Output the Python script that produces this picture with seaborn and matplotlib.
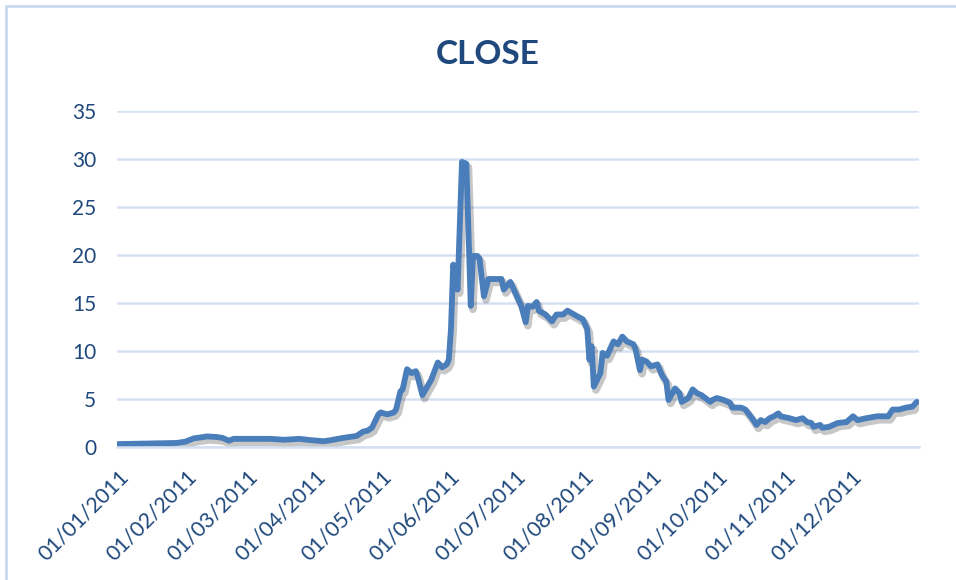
import matplotlib
matplotlib.use("Agg")
import matplotlib.pyplot as plt
import matplotlib.patheffects as pe
import matplotlib.transforms as mtransforms
from matplotlib.patches import Rectangle
import pandas as pd
import seaborn as sns

# Daily closing price, 2011
dates = [
    "2011-01-01", "2011-01-13", "2011-01-28", "2011-02-01", "2011-02-05",
    "2011-02-11", "2011-02-15", "2011-02-18", "2011-02-21", "2011-02-23",
    "2011-03-03", "2011-03-12", "2011-03-18", "2011-03-25", "2011-03-30",
    "2011-04-05", "2011-04-08", "2011-04-14", "2011-04-20", "2011-04-23",
    "2011-04-25", "2011-04-27", "2011-04-30", "2011-05-01", "2011-05-04",
    "2011-05-07", "2011-05-08", "2011-05-10", "2011-05-11", "2011-05-13",
    "2011-05-15", "2011-05-17", "2011-05-18", "2011-05-20", "2011-05-22",
    "2011-05-24", "2011-05-27", "2011-05-29", "2011-05-31", "2011-06-01",
    "2011-06-02", "2011-06-03", "2011-06-05", "2011-06-07", "2011-06-09",
    "2011-06-11", "2011-06-12", "2011-06-14", "2011-06-15", "2011-06-17",
    "2011-06-19", "2011-06-25", "2011-06-26", "2011-06-29", "2011-07-02",
    "2011-07-04", "2011-07-06", "2011-07-07", "2011-07-09", "2011-07-11",
    "2011-07-12", "2011-07-15", "2011-07-18", "2011-07-20", "2011-07-23",
    "2011-07-25", "2011-07-28", "2011-08-01", "2011-08-03", "2011-08-04",
    "2011-08-05", "2011-08-06", "2011-08-09", "2011-08-10", "2011-08-12",
    "2011-08-15", "2011-08-17", "2011-08-19", "2011-08-21", "2011-08-24",
    "2011-08-25", "2011-08-27", "2011-08-28", "2011-08-30", "2011-09-01",
    "2011-09-04", "2011-09-06", "2011-09-08", "2011-09-09", "2011-09-12",
    "2011-09-14", "2011-09-15", "2011-09-18", "2011-09-20", "2011-09-22",
    "2011-09-24", "2011-09-28", "2011-09-29", "2011-10-01", "2011-10-04",
    "2011-10-07", "2011-10-08", "2011-10-12", "2011-10-14", "2011-10-17",
    "2011-10-19", "2011-10-21", "2011-10-23", "2011-10-25", "2011-10-27",
    "2011-10-29", "2011-10-30", "2011-11-03", "2011-11-06", "2011-11-09",
    "2011-11-11", "2011-11-13", "2011-11-14", "2011-11-17", "2011-11-18",
    "2011-11-21", "2011-11-25", "2011-11-29", "2011-12-02", "2011-12-04",
    "2011-12-08", "2011-12-13", "2011-12-18", "2011-12-20", "2011-12-23",
    "2011-12-26", "2011-12-29", "2011-12-31",
]
close = [
    0.30, 0.35, 0.42, 0.55, 0.90,
    1.10, 1.05, 0.95, 0.65, 0.85,
    0.85, 0.85, 0.75, 0.85, 0.72,
    0.60, 0.70, 0.95, 1.15, 1.60,
    1.70, 2.00, 3.40, 3.60, 3.40,
    3.60, 3.90, 5.80, 6.00, 8.10,
    7.70, 7.90, 7.20, 5.40, 6.20,
    7.00, 8.80, 8.30, 8.60, 9.10,
    12.30, 19.00, 16.40, 29.70, 29.50,
    14.70, 19.90, 19.90, 19.60, 15.70,
    17.50, 17.50, 16.40, 17.20, 15.70,
    14.70, 13.00, 14.70, 14.60, 15.10,
    14.20, 13.80, 13.10, 13.80, 13.80,
    14.20, 13.80, 13.30, 12.30, 9.10,
    10.50, 6.30, 7.70, 9.80, 9.50,
    11.00, 10.70, 11.50, 11.00, 10.70,
    10.20, 8.00, 9.10, 8.90, 8.40,
    8.60, 7.50, 6.80, 4.90, 6.10,
    5.60, 4.70, 5.10, 6.00, 5.60,
    5.40, 4.70, 4.90, 5.10, 4.90,
    4.60, 4.10, 4.10, 3.90, 3.00,
    2.30, 2.80, 2.60, 3.00, 3.20,
    3.50, 3.20, 3.00, 2.80, 3.00,
    2.60, 2.50, 2.10, 2.30, 2.00,
    2.10, 2.50, 2.60, 3.20, 2.80,
    3.00, 3.20, 3.20, 3.90, 3.90,
    4.10, 4.20, 4.70,
]
month_ticks = pd.date_range("2011-01-01", "2012-01-01", freq="MS")
tick_labels = [d.strftime("%d/%m/%Y") for d in month_ticks[:-1]] + [""]
y_ticks = [0, 5, 10, 15, 20, 25, 30, 35]

df = pd.DataFrame({"date": pd.to_datetime(dates), "close": close})

sns.set_style("white")
plt.rcParams["font.family"] = ["Lato", "DejaVu Sans"]

TEXT = "#1f497d"
GRID = "#d5e1f2"
LINE = "#4a7ebb"

fig = plt.figure(figsize=(9.56, 5.80), dpi=100)
ax = fig.add_axes([117 / 956, 1 - 447 / 580, (919 - 117) / 956, (447 - 111) / 580])

sns.lineplot(data=df, x="date", y="close", ax=ax, color=LINE, linewidth=4.2,
             solid_joinstyle="round", solid_capstyle="round")
ax.lines[0].set_path_effects([
    pe.SimpleLineShadow(offset=(1.5, -2.5), shadow_color="#000000", alpha=0.22, linewidth=5.5),
    pe.Normal(),
])

ax.set_xlim(month_ticks[0], month_ticks[-1])
ax.set_ylim(0, 35)
ax.set_xticks(month_ticks)
ax.set_xticklabels(tick_labels, rotation=45, ha="right", rotation_mode="anchor")
ax.set_yticks(y_ticks)
ax.set_yticklabels([str(v) for v in y_ticks])
ax.set_xlabel("")
ax.set_ylabel("")

ax.grid(axis="y", color=GRID, linewidth=1.8)
ax.grid(axis="x", visible=False)
ax.set_axisbelow(True)
for side in ("top", "right", "left"):
    ax.spines[side].set_visible(False)
ax.spines["bottom"].set_color(GRID)
ax.spines["bottom"].set_linewidth(1.8)

ax.tick_params(axis="x", colors=GRID, labelcolor=TEXT, labelsize=15.5,
               length=6, width=1.8, direction="out", pad=6)
ax.tick_params(axis="y", labelcolor=TEXT, labelsize=15, length=0, pad=15)

# nudge rotated date labels so their upper end sits just right of each tick
shift = mtransforms.ScaledTranslation(1 / 100, -3 / 100, fig.dpi_scale_trans)
for lbl in ax.get_xticklabels():
    lbl.set_transform(lbl.get_transform() + shift)

fig.text(488 / 956, 1 - 55 / 580, "CLOSE", ha="center", va="center",
         fontsize=24, fontweight="bold", color=TEXT)

# chart area frame
fig.patches.append(Rectangle((6 / 956, -0.05), 1.1, 1 - 6 / 580 + 0.05,
                             transform=fig.transFigure, fill=False,
                             edgecolor="#c9d9ee", linewidth=2.0))

fig.savefig("out.png", dpi=100, facecolor="white")
